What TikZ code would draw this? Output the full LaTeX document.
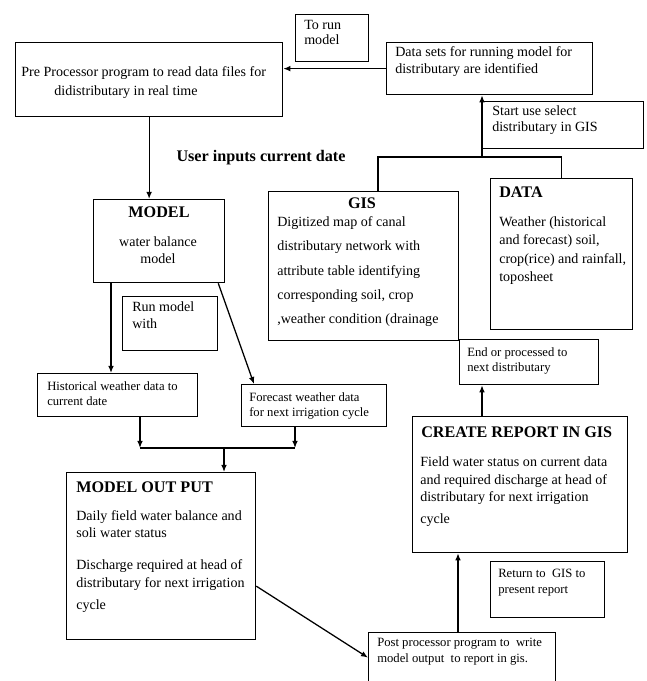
\documentclass[tikz,border=0pt]{standalone}
\usepackage{fontspec}
\setmainfont{Liberation Serif}
\usepackage{tikz}
\usetikzlibrary{arrows.meta, positioning, calc}

\begin{document}
\begin{tikzpicture}[
        box/.style={
            rectangle, draw=black, line width=0.9pt, anchor=north west,
            inner sep=0pt
        },
        txt/.style={
            anchor=north west, inner sep=0pt, align=left,
            font=\fontsize{10}{13}\selectfont
        },
        small/.style={txt, font=\fontsize{9}{11}\selectfont},
        head/.style={inner sep=0pt, font=\bfseries\fontsize{11.5}{13}\selectfont},
        arrow/.style={-{Latex[length=5pt, width=4pt]}, line width=0.9pt},
        link/.style={line width=0.9pt},
    ]
    \useasboundingbox (0,0) rectangle (16.175,-17.025);

    % ---- Top row ----
    \node[box, minimum width=1.825cm, minimum height=1.175cm] (torun) at (7.375,-0.35) {};
    \node[txt] (torunT) at (7.6,-0.49) {To run\\[-1.8pt]model};

    \node[box, minimum width=6.675cm, minimum height=1.85cm] (pre) at (0.375,-1.05) {};
    \node[txt] (preT) at (0.525,-1.665) {Pre Processor program to read data files for\\[0.5pt]\hspace*{23.5pt}didistributary in real time};

    \node[box, minimum width=5.15cm, minimum height=1.3cm] (dsets) at (9.65,-1.05) {};
    \node[txt] (dsetsT) at (9.875,-1.165) {Data sets for running model for\\[-1pt]distributary are identified};

    \node[box, minimum width=4.025cm, minimum height=1.175cm] (start) at (12.05,-2.525) {};
    \node[txt] (startT) at (12.3,-2.64) {Start use select\\[-1.6pt]distributary in GIS};

    \node[head] (user) at (6.525,-3.95) {User inputs current date};

    % ---- GIS and DATA ----
    \node[box, minimum width=4.75cm, minimum height=3.725cm] (gis) at (6.7,-4.775) {};
    \node[head] (gisH) at (9.05,-5.075) {GIS};
    \node[txt] (gisT) at (6.925,-5.415) {Digitized map of canal\\[4.2pt]distributary network with\\[4.2pt]attribute table identifying\\[4.2pt]corresponding soil, crop\\[4.2pt],weather condition (drainage};

    \node[box, minimum width=3.55cm, minimum height=3.775cm] (data) at (12.25,-4.45) {};
    \node[head, anchor=west] (dataH) at (12.475,-4.8) {DATA};
    \node[txt] (dataT) at (12.475,-5.415) {Weather (historical\\and forecast) soil,\\crop(rice) and rainfall,\\toposheet};

    % ---- Model ----
    \node[box, minimum width=3.275cm, minimum height=2.075cm] (model) at (2.325,-4.975) {};
    \node[head] (modelH) at (3.975,-5.3) {MODEL};
    \node[txt, anchor=north, align=center] (modelT) at (3.95,-5.915) {water balance\\[-1pt]model};

    \node[box, minimum width=2.375cm, minimum height=1.35cm] (runm) at (3.05,-7.4) {};
    \node[txt] (runmT) at (3.3,-7.54) {Run model\\[-1pt]with};

    \node[box, minimum width=4cm, minimum height=1.075cm] (hist) at (0.925,-9.325) {};
    \node[small] (histT) at (1.175,-9.533) {Historical weather data to\\current date};

    \node[box, minimum width=3.625cm, minimum height=1.05cm] (fore) at (6.025,-9.6) {};
    \node[small] (foreT) at (6.225,-9.808) {Forecast weather data\\for next irrigation cycle};

    % ---- Report side ----
    \node[box, minimum width=3.475cm, minimum height=1.125cm] (endp) at (11.475,-8.475) {};
    \node[small] (endpT) at (11.675,-8.683) {End or processed to\\next distributary};

    \node[box, minimum width=5.375cm, minimum height=3.4cm] (rep) at (10.3,-10.4) {};
    \node[head, anchor=west] (repH) at (10.525,-10.8) {CREATE REPORT IN GIS};
    \node[txt] (repT) at (10.5,-11.415) {Field water status on current data\\and required discharge at head of\\[-1pt]distributary for next irrigation\\[2.6pt]cycle};

    \node[box, minimum width=2.85cm, minimum height=1.4cm] (ret) at (12.25,-14.025) {};
    \node[small] (retT) at (12.45,-14.233) {Return to\ \ GIS to\\present report};

    % ---- Model output ----
    \node[box, minimum width=4.725cm, minimum height=4.175cm] (out) at (1.65,-11.8) {};
    \node[head, anchor=west] (outH) at (1.9,-12.175) {MODEL OUT PUT};
    \node[txt] (outT) at (1.9,-12.765) {Daily field water balance and\\[-1pt]soli water status\\[9.8pt]Discharge required at head of\\distributary for next irrigation\\[2pt]cycle};

    \node[box, minimum width=4.675cm, minimum height=1.25cm] (post) at (9.2,-15.8) {};
    \node[small] (postT) at (9.425,-15.958) {Post processor program to\ \ write\\model output\ \ to report in gis.};

    % ---- Helper points ----
    \coordinate (hub) at (12.05,-3.925);
    \coordinate (hj) at (3.5,-11.2);
    \coordinate (fj) at (7.375,-11.2);
    \coordinate (join) at (5.6,-11.2);
    \coordinate (mh) at ($(model.south west)+(0.45,0)$);
    \coordinate (pr) at ($(post.north west)+(2.25,0)$);
    \coordinate (re) at ($(rep.north west)+(1.75,0)$);

    % ---- Edges ----
    \draw[arrow] (dsets.west) -- (dsets.west -| pre.east);
    \draw[link] (gis.north west) ++(2.75,0) |- (hub) -| (data.north);
    \draw[arrow] (hub) -- (hub |- dsets.south);
    \draw[arrow] (pre.south) -- (pre.south |- model.north);

    \draw[arrow] (mh) -- (mh |- hist.north);
    \draw[arrow] ($(model.south east)+(-0.175,0)$) -- ($(fore.north west)+(0.325,0)$);

    \draw[arrow] (hist.south -| hj) -- (hj);
    \draw[arrow] (fore.south -| fj) -- (fj);
    \draw[link] (hj) -- (fj);
    \draw[arrow] (join) -- (join |- out.north);

    \draw[arrow] ($(out.east)+(0,-0.75)$) -- (post.west);
    \draw[arrow] (pr) -- (pr |- rep.south);
    \draw[arrow] (re) -- (re |- endp.south);

\end{tikzpicture}
\end{document}
